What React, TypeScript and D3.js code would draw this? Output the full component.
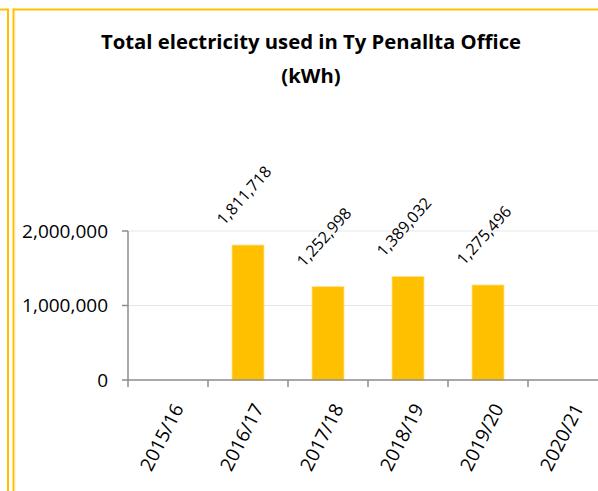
import * as d3 from "d3";

const W = 598;
const H = 491;
const FONT = "'Open Sans', 'Noto Sans', sans-serif";
const GOLD = "#FFC000";

const TITLE = ["Total electricity used in Ty Penallta Office", "(kWh)"];
const YEARS = ["2015/16", "2016/17", "2017/18", "2018/19", "2019/20", "2020/21"];
const KWH: (number | null)[] = [null, 1811718, 1252998, 1389032, 1275496, null];
const Y_TICKS = [0, 1000000, 2000000];

const PLOT = { left: 128, right: 608, top: 231, bottom: 380 };

export default function App() {
  const x = d3
    .scaleBand<string>()
    .domain(YEARS)
    .range([PLOT.left, PLOT.right])
    .paddingInner(0.6)
    .paddingOuter(0.3);
  const step = x.step();
  const y = d3.scaleLinear().domain([0, 2000000]).range([PLOT.bottom, PLOT.top]);
  const fmt = d3.format(",");

  return (
    <svg
      width={W}
      height={H}
      style={{ position: "absolute", left: 0, top: 0, background: "#fff" }}
      fontFamily={FONT}
    >
      {/* cell borders */}
      <line x1={0} x2={8} y1={9.5} y2={9.5} stroke={GOLD} strokeWidth={2} />
      <line x1={8} x2={8} y1={8.5} y2={H} stroke={GOLD} strokeWidth={2} />
      <line x1={13} x2={W} y1={9.5} y2={9.5} stroke={GOLD} strokeWidth={2} />
      <line x1={13.5} x2={13.5} y1={8.5} y2={H} stroke={GOLD} strokeWidth={2} />
      <line x1={14.8} x2={14.8} y1={10.5} y2={H} stroke="#FFE28A" strokeWidth={1} />

      {/* title */}
      <text x={311} y={49} textAnchor="middle" fontWeight="bold" fontSize={20.3} fill="#000">
        {TITLE[0]}
      </text>
      <text x={311} y={83} textAnchor="middle" fontWeight="bold" fontSize={20.3} fill="#000">
        {TITLE[1]}
      </text>

      {/* gridlines + y labels */}
      {Y_TICKS.map((t) => (
        <g key={t}>
          {t > 0 && (
            <line x1={PLOT.left} x2={W} y1={y(t)} y2={y(t)} stroke="#E6E6E6" strokeWidth={1} />
          )}
          <line x1={PLOT.left - 6} x2={PLOT.left} y1={y(t)} y2={y(t)} stroke="#8C8C8C" strokeWidth={1.5} />
          <text x={108} y={y(t)} dy="0.36em" textAnchor="end" fontSize={19} fill="#000">
            {fmt(t)}
          </text>
        </g>
      ))}

      {/* bars */}
      {YEARS.map((yr, i) =>
        KWH[i] == null ? null : (
          <rect
            key={yr}
            x={x(yr)!}
            y={y(KWH[i]!)}
            width={x.bandwidth()}
            height={y(0) - y(KWH[i]!)}
            fill={GOLD}
            stroke="#FFE08A"
            strokeWidth={0.8}
          />
        )
      )}

      {/* axes */}
      <line x1={PLOT.left} x2={PLOT.left} y1={PLOT.top} y2={PLOT.bottom} stroke="#8C8C8C" strokeWidth={1.5} />
      <line x1={PLOT.left} x2={W} y1={PLOT.bottom} y2={PLOT.bottom} stroke="#8C8C8C" strokeWidth={1.5} />
      {YEARS.map((yr) => {
        const x0 = x(yr)! - (step - x.bandwidth()) / 2;
        return (
          <line key={yr} x1={x0} x2={x0} y1={PLOT.bottom} y2={PLOT.bottom + 7} stroke="#8C8C8C" strokeWidth={1.5} />
        );
      })}

      {/* category labels */}
      {YEARS.map((yr) => {
        const cx = x(yr)! + x.bandwidth() / 2 + 10;
        const cy = 405;
        return (
          <text
            key={yr}
            transform={`translate(${cx},${cy}) rotate(-63)`}
            dy="0.36em"
            textAnchor="end"
            fontSize={19}
            fill="#000"
          >
            {yr}
          </text>
        );
      })}

      {/* value labels */}
      {YEARS.map((yr, i) => {
        if (KWH[i] == null) return null;
        const cx = x(yr)! + x.bandwidth() / 2 - 24;
        const cy = y(KWH[i]!) - 19;
        return (
          <text
            key={yr}
            transform={`translate(${cx},${cy}) rotate(-48)`}
            textAnchor="start"
            fontSize={16}
            fill="#000"
          >
            {fmt(KWH[i]!)}
          </text>
        );
      })}
    </svg>
  );
}
